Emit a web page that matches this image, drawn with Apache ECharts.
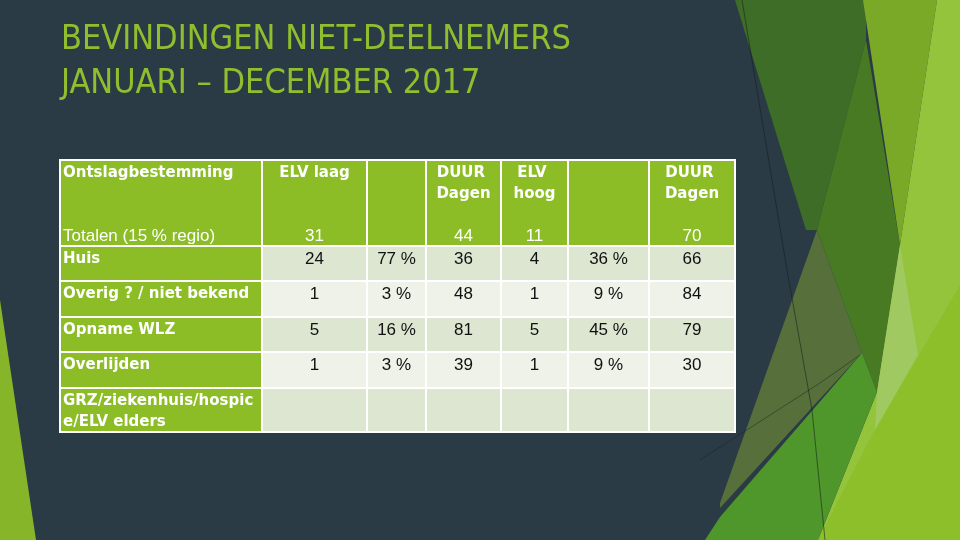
<!DOCTYPE html>
<html>
<head>
<meta charset="utf-8">
<script src="https://cdn.jsdelivr.net/npm/echarts@6/dist/echarts.min.js"></script>
<style>
  html, body { margin: 0; padding: 0; background: #2b3b45; }
  #main { width: 960px; height: 540px; }
</style>
</head>
<body>
<div id="main"></div>
<script>
// table content
const titleLines = ['BEVINDINGEN NIET-DEELNEMERS', 'JANUARI – DECEMBER 2017']
const headers = ['Ontslagbestemming', 'ELV laag', '', 'DUUR Dagen', 'ELV hoog', '', 'DUUR Dagen']
const totalLabel = 'Totalen (15 % regio)'
const totals = [31, null, 44, 11, null, 70]
const destinations = ['Huis', 'Overig ? / niet bekend', 'Opname WLZ', 'Overlijden', 'GRZ/ziekenhuis/hospice/ELV elders']
const elvLaagCount = [24, 1, 5, 1, null]
const elvLaagPct = [77, 3, 16, 3, null]
const elvLaagDuur = [36, 48, 81, 39, null]
const elvHoogCount = [4, 1, 5, 1, null]
const elvHoogPct = [36, 9, 45, 9, null]
const elvHoogDuur = [66, 84, 79, 30, null]

// layout of the table (axis units = px inside the grid)
const colEdges = [0, 202, 307, 366, 441, 508, 589, 675]
const rowEdges = [0, 86, 121, 157, 192, 228, 272]

const GREEN = '#8cbd27'
const ROW_DARK = '#dce6d0'
const ROW_LIGHT = '#eef2e8'

const pct = v => v == null ? '' : v + ' %'
const num = v => v == null ? '' : String(v)

let cells = []
headers.forEach(function (h, c) {
  cells.push({ value: [c, 0], top: h, bottom: c === 0 ? totalLabel : num(totals[c - 1]), kind: 'head' })
})
destinations.forEach(function (d, r) {
  const vals = [num(elvLaagCount[r]), pct(elvLaagPct[r]), num(elvLaagDuur[r]),
                num(elvHoogCount[r]), pct(elvHoogPct[r]), num(elvHoogDuur[r])]
  cells.push({ value: [0, r + 1], top: d, kind: 'label' })
  vals.forEach(function (v, i) {
    cells.push({ value: [i + 1, r + 1], top: v, kind: r % 2 === 0 ? 'dark' : 'light' })
  })
})

function renderCell(params, api) {
  const cell = cells[params.dataIndex]
  const col = api.value(0), row = api.value(1)
  const p0 = api.coord([colEdges[col], rowEdges[row]])
  const p1 = api.coord([colEdges[col + 1], rowEdges[row + 1]])
  const w = p1[0] - p0[0], h = p1[1] - p0[1]
  const white = cell.kind === 'head' || cell.kind === 'label'
  const fill = white ? GREEN : (cell.kind === 'dark' ? ROW_DARK : ROW_LIGHT)
  const left = col === 0
  const children = [{
    type: 'rect',
    shape: { x: p0[0], y: p0[1], width: w, height: h },
    style: { fill: fill, stroke: '#ffffff', lineWidth: 2 }
  }]
  children.push({
    type: 'text',
    style: {
      text: cell.top,
      x: left ? p0[0] + 3 : p0[0] + w / 2,
      y: p0[1] + 3,
      align: left ? 'left' : 'center',
      verticalAlign: 'top',
      width: left ? 196 : w - 8,
      overflow: left ? 'breakAll' : 'break',
      lineHeight: 21,
      fill: white ? '#ffffff' : '#111111',
      fontFamily: white ? 'DejaVu Sans' : 'Liberation Sans',
      fontWeight: white ? 'bold' : 'normal',
      fontSize: white ? 15 : 17
    }
  })
  if (cell.bottom) {
    children.push({
      type: 'text',
      style: {
        text: cell.bottom,
        x: left ? p0[0] + 3 : p0[0] + w / 2,
        y: p1[1] - 10,
        align: left ? 'left' : 'center',
        verticalAlign: 'middle',
        fill: '#ffffff',
        fontFamily: 'Liberation Sans',
        fontSize: 17
      }
    })
  }
  return { type: 'group', children: children }
}

// slide decoration (facets on the right / left edge)
const facets = [
  { pts: [[0, 300], [36, 540], [0, 540]], c: '#86b52a' },
  { pts: [[735, 0], [866, 0], [866, 40], [817, 230], [806, 230]], c: '#3e6d27' },
  { pts: [[817, 230], [862, 353], [720, 508], [720, 503]], c: '#566f3b' },
  { pts: [[866, 40], [900, 245], [877, 392], [862, 353], [817, 230]], c: '#477a22' },
  { pts: [[863, 0], [937, 0], [900, 245]], c: '#7aa827' },
  { pts: [[937, 0], [960, 0], [960, 540], [818, 540], [877, 392], [900, 245]], c: '#93c43b' },
  { pts: [[960, 285], [960, 540], [818, 540], [873, 433]], c: '#8dbf2a' },
  { pts: [[900, 245], [918, 355], [875, 430], [877, 392]], c: '#a0c962' },
  { pts: [[705, 540], [720, 517], [862, 353], [877, 392], [818, 540]], c: '#4f962b' }
]
const graphics = facets.map(function (f) {
  return { type: 'polygon', silent: true, z: -10, shape: { points: f.pts }, style: { fill: f.c } }
})
graphics.push({ type: 'polyline', silent: true, z: -9, shape: { points: [[742, 0], [787, 270], [812, 410], [825, 540]] },
  style: { stroke: 'rgba(20,30,30,0.55)', lineWidth: 1, fill: null } })
graphics.push({ type: 'polyline', silent: true, z: -9, shape: { points: [[700, 460], [820, 383], [860, 355]] },
  style: { stroke: 'rgba(20,30,30,0.45)', lineWidth: 1, fill: null } })

// slide title, two lines
titleLines.forEach(function (t, i) {
  graphics.push({
    type: 'text', silent: true, left: 61, top: 23 + i * 44,
    style: {
      text: t, fill: '#8fbf2e',
      font: 'normal 34px "DejaVu Sans Condensed", "DejaVu Sans", sans-serif'
    }
  })
})

const chart = echarts.init(document.getElementById('main'))
chart.setOption({
  backgroundColor: '#2b3b45',
  animation: false,
  graphic: graphics,
  grid: { left: 60, top: 160, width: 675, height: 272 },
  xAxis: { type: 'value', min: 0, max: 675, show: false },
  yAxis: { type: 'value', min: 0, max: 272, inverse: true, show: false },
  series: [{
    type: 'custom',
    renderItem: renderCell,
    data: cells.map(c => c.value),
    clip: false
  }]
})
</script>
</body>
</html>
